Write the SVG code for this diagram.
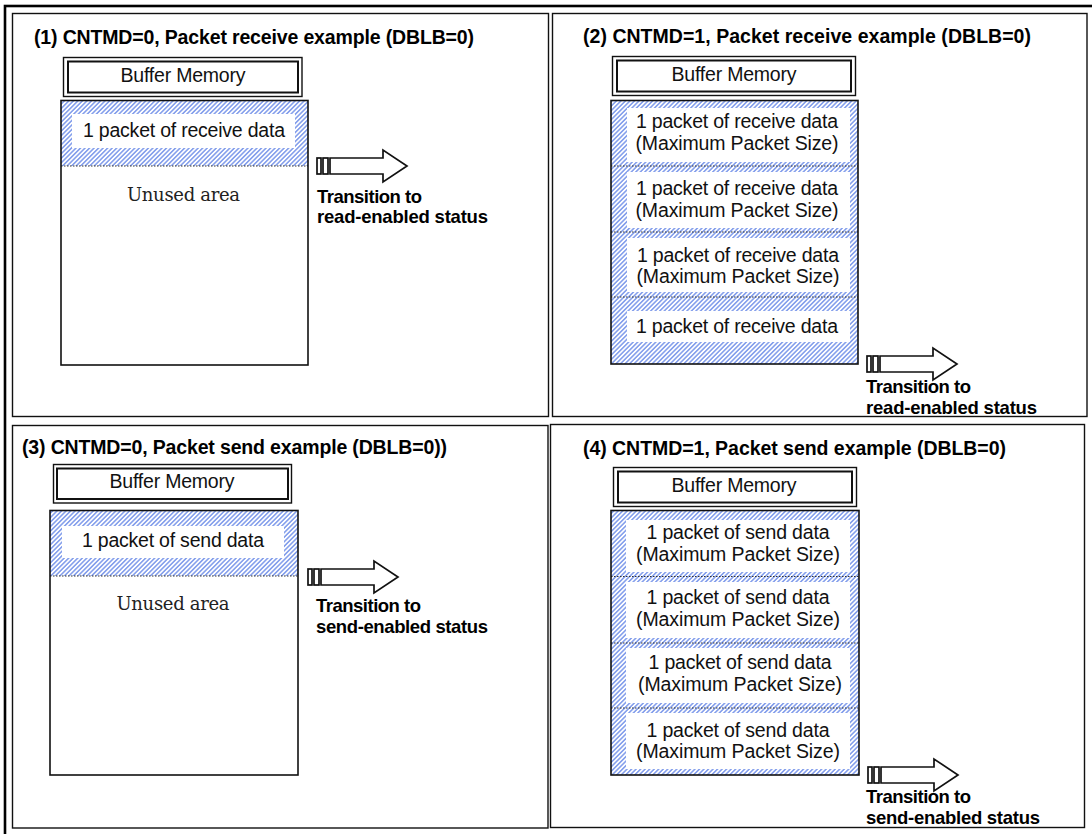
<svg xmlns="http://www.w3.org/2000/svg" width="1092" height="834" viewBox="0 0 1092 834">
<style>
.frame{fill:none;stroke:#111;stroke-width:1.4}
.outer{fill:none;stroke:#000;stroke-width:2.6}
.bmo{fill:#fff;stroke:#111;stroke-width:1.4}
.bmi{fill:none;stroke:#111;stroke-width:2}
.mem{fill:none;stroke:#111;stroke-width:1.6}
.hatch{fill:url(#hatch)}
.wb{fill:#fff}
.dot{stroke:#333;stroke-width:1;stroke-dasharray:1.5 1.5}
.title{font-family:"Liberation Sans",Arial,sans-serif;font-weight:bold;font-size:19.5px;fill:#000}
.t{font-family:"Liberation Sans",Arial,sans-serif;font-size:19.5px;fill:#111;text-anchor:middle}
.serif{font-family:"DejaVu Serif","Liberation Serif",serif;font-size:18px;fill:#222;text-anchor:middle}
.tr{font-family:"Liberation Sans",Arial,sans-serif;font-weight:bold;font-size:18.5px;fill:#000}
.arr{fill:#fff;stroke:#111;stroke-width:1.7}
</style>
<defs>
<pattern id="hatch" patternUnits="userSpaceOnUse" width="3.2" height="3.2" patternTransform="rotate(45)">
<rect width="3.2" height="3.2" fill="#fff"/>
<line x1="1.6" y1="0" x2="1.6" y2="3.2" stroke="#5f82e6" stroke-width="1.2"/>
</pattern>
<g id="arrowShape">
<rect class="arr" x="0" y="-8" width="4" height="16"/>
<rect class="arr" x="6" y="-8" width="5" height="16"/>
<polygon class="arr" points="13,-8 66,-8 66,-16 90,0 66,16 66,8 13,8"/>
</g>
</defs>
<rect width="1092" height="834" fill="#fff"/>
<rect class="outer" x="5" y="6" width="1100" height="840"/>

<!-- Panel 1 -->
<g id="panel1">
<rect class="frame" x="12.5" y="13.5" width="536" height="403"/>
<text class="title" x="34" y="44" textLength="440">(1) CNTMD=0, Packet receive example (DBLB=0)</text>
</g>
<g id="bm1">
<rect class="bmo" x="63.5" y="57.5" width="238.5" height="39"/>
<rect class="bmi" x="68" y="61.5" width="230" height="31"/>
<text class="t" x="183" y="82" textLength="125">Buffer Memory</text>
</g>
<g id="mem1">
<rect class="hatch" x="61" y="100" width="247" height="66"/>
<rect class="wb" x="72" y="114" width="223" height="34"/>
<text class="t" x="184" y="137" textLength="202">1 packet of receive data</text>
<line class="dot" x1="61" y1="166" x2="308" y2="166"/>
<text class="serif" x="183.5" y="201" textLength="113">Unused area</text>
<rect class="mem" x="61" y="100.5" width="247" height="264.5"/>
</g>

<!-- Panel 2 -->
<g id="panel2">
<rect class="frame" x="552.5" y="13.5" width="534.5" height="403"/>
<text class="title" x="583" y="43" textLength="448">(2) CNTMD=1, Packet receive example (DBLB=0)</text>
</g>
<g id="bm2">
<rect class="bmo" x="612.5" y="56.5" width="243" height="39"/>
<rect class="bmi" x="617" y="60.5" width="234" height="31"/>
<text class="t" x="734" y="81" textLength="125">Buffer Memory</text>
</g>
<g id="mem2">
<rect class="hatch" x="611" y="100" width="247" height="264"/>
<rect class="wb" x="627" y="108" width="223" height="54"/>
<rect class="wb" x="627" y="172" width="223" height="56"/>
<rect class="wb" x="627" y="238" width="223" height="54"/>
<rect class="wb" x="627" y="311" width="223" height="31"/>
<line class="dot" x1="611" y1="166" x2="858" y2="166"/>
<line class="dot" x1="611" y1="232" x2="858" y2="232"/>
<line class="dot" x1="611" y1="297" x2="858" y2="297"/>
<text class="t" x="737" y="128" textLength="202">1 packet of receive data</text>
<text class="t" x="737" y="150" textLength="203">(Maximum Packet Size)</text>
<text class="t" x="737" y="195" textLength="202">1 packet of receive data</text>
<text class="t" x="737" y="217" textLength="203">(Maximum Packet Size)</text>
<text class="t" x="738" y="262" textLength="202">1 packet of receive data</text>
<text class="t" x="738" y="283" textLength="203">(Maximum Packet Size)</text>
<text class="t" x="737" y="333" textLength="202">1 packet of receive data</text>
<rect class="mem" x="611" y="100.5" width="247" height="263.5"/>
</g>

<!-- Panel 3 -->
<g id="panel3">
<rect class="frame" x="12.5" y="425.5" width="535.5" height="402.5"/>
<text class="title" x="22" y="454" textLength="425">(3) CNTMD=0, Packet send example (DBLB=0))</text>
</g>
<g id="bm3">
<rect class="bmo" x="53.5" y="464.5" width="238" height="38.5"/>
<rect class="bmi" x="57" y="468.5" width="231" height="30.5"/>
<text class="t" x="172" y="488" textLength="125">Buffer Memory</text>
</g>
<g id="mem3">
<rect class="hatch" x="50" y="510" width="248" height="66"/>
<rect class="wb" x="62" y="526" width="222" height="32"/>
<text class="t" x="173" y="547" textLength="182">1 packet of send data</text>
<line class="dot" x1="50" y1="576" x2="298" y2="576"/>
<text class="serif" x="173" y="610" textLength="113">Unused area</text>
<rect class="mem" x="50" y="510.5" width="248" height="264.5"/>
</g>

<!-- Panel 4 -->
<g id="panel4">
<rect class="frame" x="550.5" y="424.5" width="534" height="403"/>
<text class="title" x="583" y="455" textLength="423">(4) CNTMD=1, Packet send example (DBLB=0)</text>
</g>
<g id="bm4">
<rect class="bmo" x="613.5" y="467.5" width="243" height="39"/>
<rect class="bmi" x="618" y="471.5" width="234" height="31"/>
<text class="t" x="734" y="492" textLength="125">Buffer Memory</text>
</g>
<g id="mem4">
<rect class="hatch" x="611" y="510" width="248" height="265"/>
<rect class="wb" x="626" y="520" width="224" height="52"/>
<rect class="wb" x="626" y="582" width="224" height="56"/>
<rect class="wb" x="626" y="648" width="224" height="55"/>
<rect class="wb" x="626" y="713" width="224" height="56"/>
<line class="dot" x1="611" y1="576.5" x2="859" y2="576.5"/>
<line class="dot" x1="611" y1="643" x2="859" y2="643"/>
<line class="dot" x1="611" y1="708" x2="859" y2="708"/>
<text class="t" x="738" y="539" textLength="183">1 packet of send data</text>
<text class="t" x="738" y="561" textLength="204">(Maximum Packet Size)</text>
<text class="t" x="738" y="604" textLength="183">1 packet of send data</text>
<text class="t" x="738" y="626" textLength="204">(Maximum Packet Size)</text>
<text class="t" x="740" y="669" textLength="183">1 packet of send data</text>
<text class="t" x="740" y="691" textLength="204">(Maximum Packet Size)</text>
<text class="t" x="738" y="737" textLength="183">1 packet of send data</text>
<text class="t" x="738" y="758" textLength="204">(Maximum Packet Size)</text>
<rect class="mem" x="611" y="510.5" width="248" height="264.5"/>
</g>

<!-- Connectors (transition arrows) -->
<g id="connectors">
<use href="#arrowShape" x="317" y="166"/>
<use href="#arrowShape" x="867" y="364"/>
<use href="#arrowShape" x="308" y="577"/>
<use href="#arrowShape" x="868" y="775"/>
</g>

<!-- Transition labels -->
<g id="label1">
<text class="tr" x="317" y="203" textLength="105">Transition to</text>
<text class="tr" x="317" y="223" textLength="171">read-enabled status</text>
</g>
<g id="label2">
<text class="tr" x="866" y="393" textLength="105">Transition to</text>
<text class="tr" x="866" y="414" textLength="171">read-enabled status</text>
</g>
<g id="label3">
<text class="tr" x="316" y="612" textLength="105">Transition to</text>
<text class="tr" x="316" y="633" textLength="172">send-enabled status</text>
</g>
<g id="label4">
<text class="tr" x="866" y="803" textLength="105">Transition to</text>
<text class="tr" x="866" y="824" textLength="174">send-enabled status</text>
</g>
</svg>
